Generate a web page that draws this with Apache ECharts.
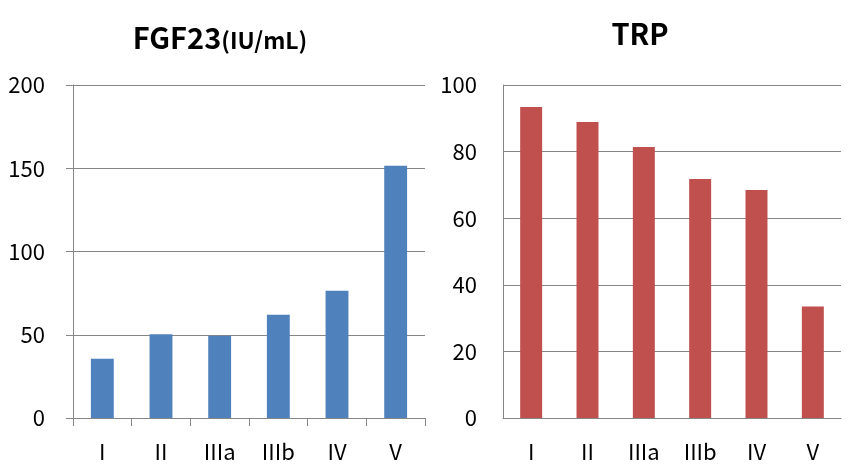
<!DOCTYPE html>
<html><head><meta charset="utf-8">
<script src="https://cdn.jsdelivr.net/npm/echarts@6/dist/echarts.min.js"></script>
<style>html,body{margin:0;padding:0;background:#fff}#c{width:855px;height:476px}</style>
</head><body><div id="c"></div>
<script>
const categories = ['I', 'II', 'IIIa', 'IIIb', 'IV', 'V'];
const fgf23Values = [35.6, 50.3, 49.4, 62, 76.5, 151.5];
const trpValues = [93.4, 88.9, 81.4, 71.8, 68.5, 33.5];
const fgfTicks = [0, 50, 100, 150, 200];
const trpTicks = [0, 20, 40, 60, 80, 100];

const FONT = '"Noto Sans CJK KR", "Noto Sans", sans-serif';
const gray = '#868686';
const chart = echarts.init(document.getElementById('c'));
function xAxis(gi, ticks) {
  return {
    type: 'category', gridIndex: gi, data: categories,
    axisLine: { show: true, lineStyle: { color: gray, width: 1 } },
    axisTick: { show: ticks, length: 8, alignWithLabel: false, lineStyle: { color: gray } },
    axisLabel: { color: '#000', fontSize: 22, fontFamily: FONT, margin: 23 }
  };
}
function yAxis(gi, max, interval, ticks, margin) {
  return {
    type: 'value', gridIndex: gi, min: 0, max: max, interval: interval,
    axisLine: { show: true, lineStyle: { color: gray, width: 1 } },
    axisTick: { show: ticks, length: 7, lineStyle: { color: gray } },
    splitLine: { show: true, lineStyle: { color: gray, width: 1 } },
    axisLabel: { color: '#000', fontSize: 22, fontFamily: FONT, margin: margin }
  };
}
chart.setOption({
  animation: false,
  title: [
    { text: '{a|FGF23}{b|(IU/mL)}', left: 215, top: 11, textAlign: 'center',
      textStyle: { rich: {
        a: { fontSize: 29, fontWeight: 'bold', fontFamily: FONT, color: '#000', lineHeight: 36, verticalAlign: 'bottom' },
        b: { fontSize: 23, fontWeight: 'bold', fontFamily: FONT, color: '#000', lineHeight: 36, verticalAlign: 'bottom' } } } },
    { text: 'TRP', left: 635, top: 11, textAlign: 'center',
      textStyle: { fontSize: 29, fontWeight: 'bold', fontFamily: FONT, color: '#000', lineHeight: 36 } }
  ],
  grid: [
    { left: 73, right: 430, top: 85, bottom: 58 },
    { left: 503, right: 14, top: 85, bottom: 58 }
  ],
  xAxis: [xAxis(0, true), xAxis(1, false)],
  yAxis: [yAxis(0, fgfTicks[fgfTicks.length - 1], fgfTicks[1], true, 28),
          yAxis(1, trpTicks[trpTicks.length - 1], trpTicks[1], false, 26)],
  series: [
    { type: 'bar', xAxisIndex: 0, yAxisIndex: 0, data: fgf23Values, barWidth: '39%',
      itemStyle: { color: '#4F81BD' } },
    { type: 'bar', xAxisIndex: 1, yAxisIndex: 1, data: trpValues, barWidth: '39%',
      itemStyle: { color: '#C0504D' } }
  ]
});
</script></body></html>
